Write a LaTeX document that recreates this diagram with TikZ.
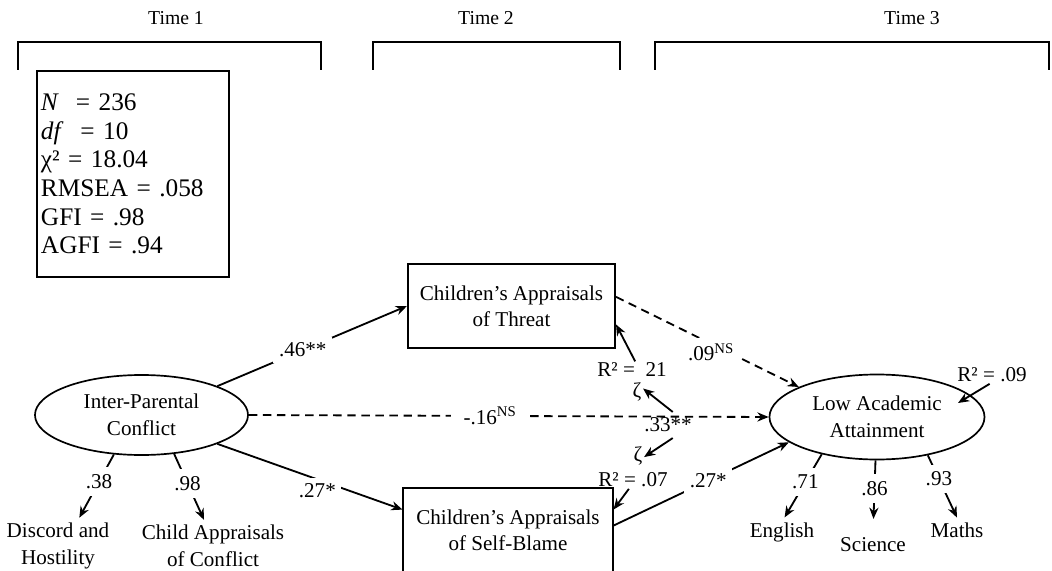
\documentclass[tikz,border=0pt]{standalone}
\usepackage{fontspec}
\setmainfont{Liberation Serif}
\usetikzlibrary{arrows.meta,shapes.geometric}
\begin{document}
\begin{tikzpicture}[x=0.025cm,y=-0.025cm,
  font=\fontsize{15}{19.5}\selectfont,
  varbox/.style={draw,line width=1.4pt,align=center,minimum width=5.2cm},
  latent/.style={draw,ellipse,line width=1.2pt,align=center,inner sep=0pt},
  coef/.style={fill=white,inner sep=4pt},
  ind/.style={fill=white,inner xsep=2pt,inner ysep=5pt},
  bare/.style={inner sep=1pt},
  arr/.style={line width=1.3pt,-{Stealth[length=8pt,width=6.5pt]}},
  darr/.style={arr,dash pattern=on 6pt off 4pt}]
\useasboundingbox (0,0) rectangle (1052,571);
\clip (0,0) rectangle (1052,571);
% time brackets
\node[font=\fontsize{14}{17}\selectfont] (t1) at (176,18) {Time 1};
\node[font=\fontsize{14}{17}\selectfont] (t2) at (486,18) {Time 2};
\node[font=\fontsize{14}{17}\selectfont] (t3) at (912,18) {Time 3};
\draw[line width=1.4pt] (18,70) -- (18,42) -- (321,42) -- (321,70);
\draw[line width=1.4pt] (373,70) -- (373,42) -- (620,42) -- (620,70);
\draw[line width=1.4pt] (655,70) -- (655,42) -- (1049,42) -- (1049,70);
% fit indices
\node[draw,line width=1.4pt,anchor=north west,minimum width=4.8cm,minimum height=5.15cm,
  text width=4.6cm,align=left,inner sep=2pt,font=\fontsize{18}{20.4}\selectfont] (fit) at (36,70)
  {\textit{N} \ = 236\\ \textit{df} \ = 10\\ χ² = 18.04\\ RMSEA = .058\\ GFI = .98\\ AGFI = .94};
% variables
\node[latent,minimum width=5.325cm,minimum height=2cm] (ipc) at (141.5,415) {Inter-Parental\\Conflict};
\node[latent,minimum width=5.375cm,minimum height=2.125cm] (laa) at (877,417) {Low Academic\\Attainment};
\node[varbox,minimum width=5.175cm,minimum height=2.1cm,font=\fontsize{15}{18.5}\selectfont] (threat) at (511.5,306) {Children's Appraisals\\of Threat};
\node[varbox,anchor=north,minimum width=5.225cm,minimum height=3cm] (blame) at (508,487) {};
\node[anchor=north,align=center,font=\fontsize{15}{18.5}\selectfont] (blametxt) at (blame.north) [yshift=-0.45cm] {Children's Appraisals\\of Self-Blame};
% indicators
\node[align=center] (discord) at (58,546) {Discord and\\Hostility};
\node[align=center] (childapp) at (213,546) {Child Appraisals\\of Conflict};
\node (english) at (782,532) {English};
\node (science) at (873,545) {Science};
\node (maths) at (957,530) {Maths};
% residuals
\node[bare] (r2a) at (632,370) {R² = \ 21};
\node[bare] (zeta1) at (637,392) {ζ};
\node[coef] (cor) at (668,425) {.33**};
\node[bare] (zeta2) at (638,456) {ζ};
\node[bare] (r2b) at (633,480) {R² = .07};
\node[bare] (r2c) at (992,375) {R² = .09};
\path (laa.center) ++(81,-14) coordinate (r2ctip);
% paths
\draw[arr] (ipc.north east) -- (threat.west) node[coef,pos=.45] {.46**};
\draw[arr] (ipc.south east) -- (blame.160) node[coef,pos=.54,yshift=-8pt] {.27*};
\draw[darr] (ipc.east) -- (laa.west) node[coef,inner xsep=9pt,pos=.464] {-.16\textsuperscript{NS}};
\draw[darr] (threat.5) -- (laa.159) node[coef,pos=.52,yshift=-6pt] {.09\textsuperscript{NS}};
\draw[arr] (blame.12) -- (laa.196) node[coef,pos=.54] {.27*};
\draw[arr] (r2a.70) -- (threat.-10);
\draw[arr] (cor.70) -- (zeta1.30);
\draw[arr] (cor.-70) -- (zeta2.-10);
\draw[arr] (r2b.-115) -- (blame.20);
\draw[arr] (r2c.-105) -- (r2ctip);
% loadings
\draw[arr] (ipc.-125) -- (discord.53) node[ind,pos=.43] {.38};
\draw[arr] (ipc.-50) -- (childapp.109) node[ind,pos=.45] {.98};
\draw[arr] (laa.-146) -- (english.80) node[ind,pos=.44] {.71};
\draw[arr,shorten >=10pt] (laa.-92) -- (science.north) node[ind,pos=.39] {.86};
\draw[arr] (laa.-37) -- (maths.north) node[ind,pos=.38] {.93};
\end{tikzpicture}
\end{document}
